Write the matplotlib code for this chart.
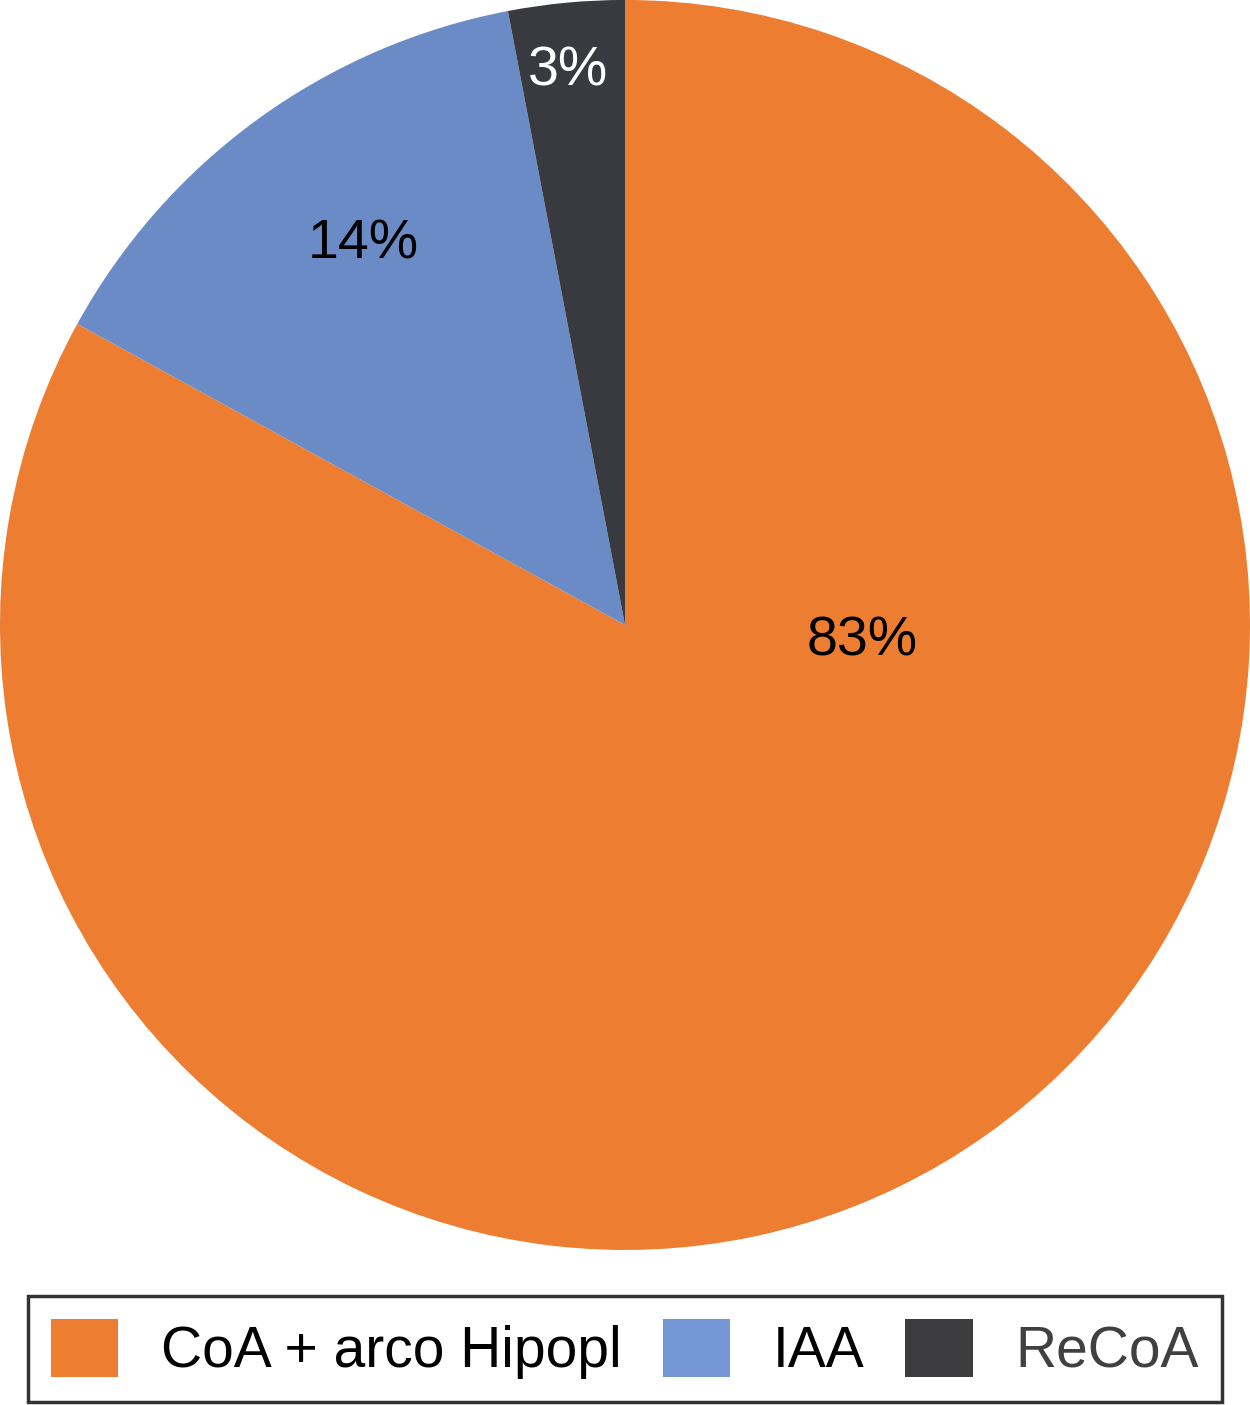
import matplotlib
matplotlib.use('Agg')
import matplotlib.pyplot as plt
from matplotlib.patches import Patch

# ------------------------- Data -------------------------
labels = ['CoA + arco Hipopl', 'IAA', 'ReCoA']
values = [83, 14, 3]
pie_colors = ['#ED7D31', '#6B8BC6', '#393A3F']
legend_colors = ['#ED7D31', '#7597D5', '#3D3D40']
pct_text_colors = ['black', 'black', 'white']

plt.rcParams['font.family'] = ['Liberation Sans Narrow', 'Liberation Sans', 'DejaVu Sans']

fig = plt.figure(figsize=(12.5, 14.05), dpi=100)
ax = fig.add_axes([0, 1 - 1250 / 1405 + 2 / 1405 - 0.0014, 1, 1250 / 1405])

wedges, texts, autotexts = ax.pie(values, colors=pie_colors, startangle=90, counterclock=False,
                                  autopct='%d%%', radius=1.0,
                                  wedgeprops=dict(linewidth=0),
                                  textprops=dict(fontsize=40))
ax.set_xlim(-1, 1)
ax.set_ylim(-1, 1)
ax.set_aspect('equal')

# label positions (Office style placement)
label_pos = [(0.379, -0.027), (-0.419, 0.608), (-0.091, 0.885)]
for t, c, p in zip(autotexts, pct_text_colors, label_pos):
    t.set_color(c)
    t.set_position(p)
    t.set_fontfamily(['Liberation Sans', 'DejaVu Sans'])

handles = [Patch(facecolor=c, edgecolor='none') for c in legend_colors]
leg = fig.legend(handles, labels, loc='center', bbox_to_anchor=(625 / 1250, 1 - 1349 / 1405),
                 ncol=3, fontsize=41, frameon=True, fancybox=False, edgecolor='black',
                 handlelength=1.18, handleheight=1.2, handletextpad=0.75, columnspacing=0.72,
                 borderpad=0.4, borderaxespad=0)
leg.get_frame().set_linewidth(2.5)
leg.get_texts()[2].set_color('#404040')

fig.savefig('out.png', dpi=100, facecolor='white')
